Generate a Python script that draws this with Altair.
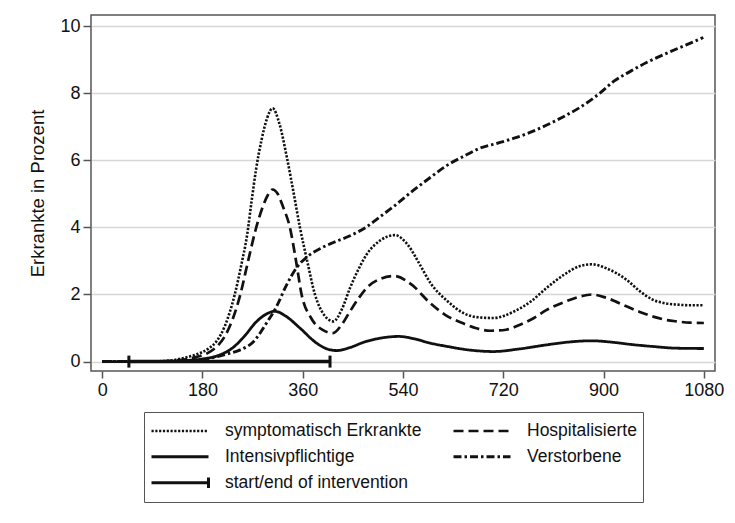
import altair as alt
import pandas as pd

# ---- data ----
S_days = [0, 60, 100, 130, 150, 170, 190, 205, 220, 238, 250, 260, 268, 276, 286, 296, 306, 318, 332, 344, 355, 368, 382, 398, 415, 430, 445, 460, 475, 500, 525, 550, 570, 589, 620, 648, 675, 702, 740, 770, 798, 830, 858, 879, 905, 942, 965, 989, 1010, 1031, 1055, 1080]
S_vals = [0, 0, 0.01, 0.05, 0.12, 0.22, 0.38, 0.6, 1.05, 2.0, 2.9, 3.75, 4.75, 5.7, 6.6, 7.25, 7.55, 7.1, 6.05, 5.0, 4.0, 3.0, 2.0, 1.4, 1.2, 1.55, 2.2, 2.75, 3.2, 3.62, 3.77, 3.45, 2.9, 2.35, 1.8, 1.45, 1.32, 1.3, 1.5, 1.8, 2.2, 2.6, 2.85, 2.9, 2.78, 2.43, 2.1, 1.84, 1.74, 1.7, 1.68, 1.68]

H_days = [0, 60, 100, 130, 150, 170, 190, 206, 220, 235, 248, 262, 275, 288, 297, 306, 315, 325, 337, 348, 358, 375, 395, 414, 430, 445, 460, 475, 500, 525, 555, 589, 620, 648, 670, 696, 725, 750, 775, 798, 830, 858, 879, 905, 942, 965, 989, 1010, 1030, 1055, 1080]
H_vals = [0, 0, 0.005, 0.03, 0.07, 0.14, 0.26, 0.45, 0.75, 1.3, 2.0, 3.0, 3.9, 4.6, 4.95, 5.13, 5.0, 4.6, 4.0, 3.0, 2.0, 1.3, 0.95, 0.85, 1.1, 1.5, 1.88, 2.2, 2.47, 2.55, 2.3, 1.74, 1.35, 1.14, 1.0, 0.92, 0.95, 1.1, 1.3, 1.54, 1.78, 1.94, 2.0, 1.9, 1.64, 1.48, 1.34, 1.25, 1.2, 1.16, 1.15]

I_days = [0, 100, 130, 150, 180, 206, 235, 255, 277, 295, 310, 330, 355, 385, 405, 421, 445, 470, 500, 532, 560, 589, 620, 648, 675, 702, 750, 798, 830, 858, 879, 920, 950, 989, 1030, 1080]
I_vals = [0, 0.003, 0.01, 0.03, 0.08, 0.17, 0.42, 0.75, 1.19, 1.42, 1.5, 1.35, 1.0, 0.55, 0.37, 0.33, 0.42, 0.58, 0.7, 0.75, 0.68, 0.55, 0.45, 0.37, 0.32, 0.3, 0.38, 0.5, 0.57, 0.61, 0.62, 0.57, 0.51, 0.45, 0.4, 0.39]

D_days = [0, 100, 130, 150, 180, 206, 230, 248, 272, 295, 313, 330, 349, 370, 395, 415, 445, 475, 499, 523, 559, 590, 618, 648, 678, 708, 738, 768, 798, 828, 858, 894, 918, 948, 978, 1008, 1037, 1060, 1079]
D_vals = [0, 0.003, 0.01, 0.02, 0.05, 0.15, 0.25, 0.35, 0.6, 1.15, 1.64, 2.25, 2.8, 3.15, 3.4, 3.55, 3.75, 4.02, 4.32, 4.62, 5.11, 5.5, 5.84, 6.11, 6.36, 6.5, 6.65, 6.83, 7.05, 7.3, 7.58, 8.01, 8.35, 8.65, 8.92, 9.15, 9.36, 9.52, 9.66]

series_names = ["symptomatisch Erkrankte", "Hospitalisierte", "Intensivpflichtige", "Verstorbene", "start/end of intervention"]
interv_start = [48]
interv_end = [409]

x_ticks = [0, 180, 360, 540, 720, 900, 1080]
y_ticks = [0, 2, 4, 6, 8, 10]

# ---- build tables ----
rows = []
for name, ds, vs in zip(series_names[:4], [S_days, H_days, I_days, D_days], [S_vals, H_vals, I_vals, D_vals]):
    for d, v in zip(ds, vs):
        rows.append({"serie": name, "tag": d, "wert": v})
df = pd.DataFrame(rows)
df_int = pd.DataFrame({"start": interv_start, "end": interv_end, "y": [0]})
df_caps = pd.DataFrame({"tag": interv_start + interv_end, "y": [0, 0]})

FONT = "Liberation Sans"
xscale = alt.Scale(domain=[-20, 1100], nice=False, zero=False)
yscale = alt.Scale(domain=[-0.28, 10.33], nice=False, zero=False)

dash_range = [[2.2, 1.6], [10, 5], [1, 0], [8, 3, 2.5, 3], [1, 0]]
width_range = [2.6, 3.0, 2.6, 3.0, 2.6]

shape_expr = "datum.label == 'start/end of intervention' ? 'M-1,0H1M1,-0.18V0.18' : 'stroke'"

lines = alt.Chart(df).mark_line(color="#111", interpolate="monotone").encode(
    x=alt.X("tag:Q", scale=xscale,
            axis=alt.Axis(values=x_ticks, title=None, grid=False, domain=False, format="d",
                          tickSize=7, tickWidth=1.5, tickColor="#555",
                          labelFontSize=18, labelFont=FONT, labelColor="#111", labelPadding=3)),
    y=alt.Y("wert:Q", scale=yscale,
            axis=alt.Axis(values=y_ticks, title="Erkrankte in Prozent", grid=True,
                          gridColor="#d6d6d6", gridWidth=1.5, domain=False,
                          tickSize=8, tickWidth=1.5, tickColor="#555",
                          labelFontSize=18, labelFont=FONT, labelColor="#111", labelPadding=3,
                          titleFontSize=18.5, titleFont=FONT, titleFontWeight="normal",
                          titleColor="#111", titlePadding=12)),
    strokeDash=alt.StrokeDash("serie:N",
        scale=alt.Scale(domain=series_names, range=dash_range),
        legend=alt.Legend(orient="none", legendX=53, legendY=397, columns=2, direction="horizontal",
                          title=None,
                          symbolType=alt.ExprRef(expr=shape_expr),
                          symbolSize=3249, symbolStrokeWidth=2.2, symbolStrokeColor="#111",
                          clipHeight=25.5, rowPadding=0, columnPadding=30,
                          labelFontSize=17.5, labelFont=FONT, labelColor="#111",
                          labelLimit=400, labelOffset=15, padding=6,
                          strokeColor="#555", fillColor="white")),
    strokeWidth=alt.StrokeWidth("serie:N",
        scale=alt.Scale(domain=series_names, range=width_range), legend=None),
)

interv = alt.Chart(df_int).mark_rule(color="#111", strokeWidth=3.5).encode(
    x=alt.X("start:Q", scale=xscale), x2="end:Q", y=alt.Y("y:Q", scale=yscale))

caps = alt.Chart(df_caps).mark_tick(color="#111", thickness=3, size=12, orient="vertical", opacity=1).encode(
    x=alt.X("tag:Q", scale=xscale), y=alt.Y("y:Q", scale=yscale))

chart = alt.layer(lines, interv, caps).properties(
    width=624, height=356,
    autosize=alt.AutoSizeParams(type="none"),
    padding={"left": 83, "top": 7, "right": 12, "bottom": 135},
).configure_view(stroke="#555", strokeWidth=1.5)

chart.save("out.html", embed_options={"renderer": "svg", "actions": False})
